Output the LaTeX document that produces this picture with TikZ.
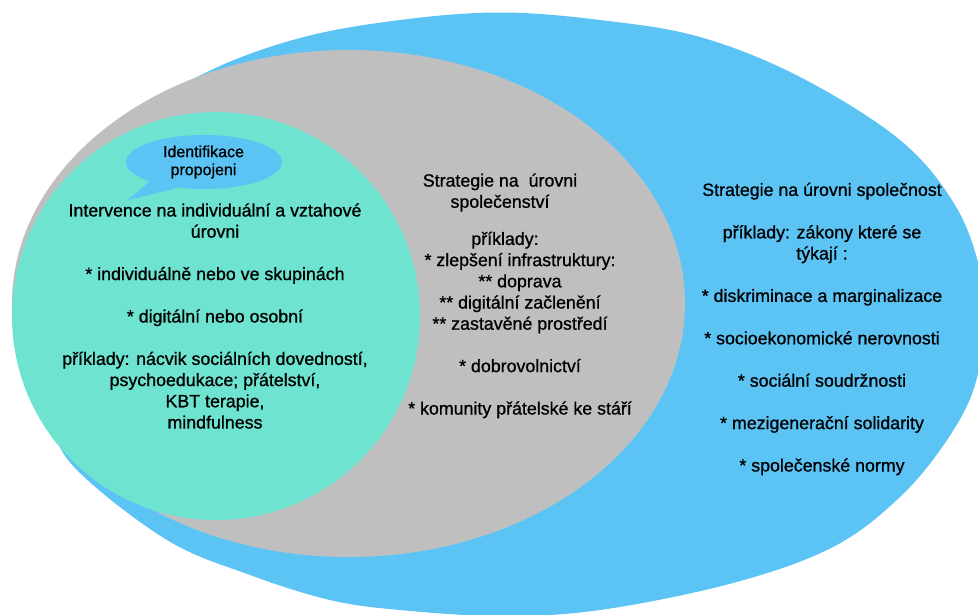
\documentclass[tikz,border=0pt]{standalone}
\usepackage{fontspec}
\setmainfont{Liberation Sans}
\newfontfamily\medfont{Liberation Sans}[FakeBold=0.9]
\definecolor{outerblue}{RGB}{91,196,245}
\definecolor{midgray}{RGB}{191,191,191}
\definecolor{innerteal}{RGB}{110,227,208}
\tikzset{
  txt/.style={align=center, inner sep=0pt, text=black, font=\medfont\fontsize{17.8}{21.2}\selectfont},
  bubbletxt/.style={align=center, inner sep=0pt, text=black, font=\medfont\fontsize{16}{18}\selectfont}
}
\begin{document}
\begin{tikzpicture}[x=1pt,y=-1pt]
\useasboundingbox (0,0) rectangle (978,614);
\begin{scope}
  \clip (0,0) rectangle (978,614);
  \fill[outerblue] plot[smooth cycle, tension=0.6] coordinates {
    (500,12.5) (600,20) (700,37) (800,77) (900,140) (955,205) (980,270)
    (984,320) (975,385) (947,440) (900,497) (833,547) (733,583) (600,610)
    (500,616) (400,610) (330,600) (250,575) (167,540) (77,470) (50,420)
    (36,350) (38,260) (62,190) (120,125) (207,72) (300,38) (400,20)};
\end{scope}
\fill[midgray] (348.5,303.5) ellipse [x radius=336.5, y radius=253.5];
\fill[innerteal] (216,316) circle [radius=204];
% speech bubble
\coordinate (tailA) at (150,181);
\coordinate (tailtip) at (128,200);
\coordinate (tailB) at (177,188);
\fill[outerblue] (tailA) -- (tailtip) -- (tailB) -- cycle;
\fill[outerblue] (204,162) ellipse [x radius=78, y radius=27];
\node[bubbletxt] (bubble) at (203.5,162) {Identifikace\\propojeni};
% inner text
\node[txt] (inner) at (215,316) {Intervence na individuální a vztahové\\
úrovni\\[21.2pt]
* individuálně nebo ve skupinách\\[21.2pt]
* digitální nebo osobní\\[21.2pt]
příklady: nácvik sociálních dovedností,\\
psychoedukace; přátelství,\\
KBT terapie,\\
mindfulness};
% middle text
\node[txt] (midtitle) at (500,192.5) {Strategie na \ úrovni\\ společenství};
\node[txt] (midbody) at (520,325) {příklady:\hspace*{30pt}\\
* zlepšení infrastruktury:\\
** doprava\hspace*{38pt}\\
** digitální začlenění\\
** zastavěné prostředí\\[21.2pt]
* dobrovolnictví\\[21.2pt]
* komunity přátelské ke stáří};
% outer text
\node[txt] (outer) at (822,329) {Strategie na úrovni společnost\\[21.2pt]
příklady: zákony které se\\
týkají :\\[21.2pt]
* diskriminace a marginalizace\\[21.2pt]
* socioekonomické nerovnosti\\[21.2pt]
* sociální soudržnosti\\[21.2pt]
* mezigenerační solidarity\\[21.2pt]
* společenské normy};
\end{tikzpicture}
\end{document}
